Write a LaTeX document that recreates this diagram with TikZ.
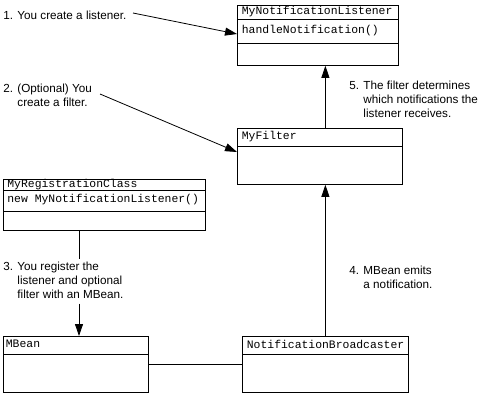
\documentclass[tikz,border=0pt]{standalone}
\usepackage{fontspec}
\setmainfont{Liberation Sans}
\setmonofont{Liberation Mono}
\usepackage{tikz}
\usetikzlibrary{arrows.meta, calc}
\newcommand{\classrule}[2]{\draw ($(#1.north west)+(0,#2)$) -- ($(#1.north east)+(0,#2)$);}

\begin{document}
\begin{tikzpicture}[x=1pt, y=-1pt, line width=0.8pt,
  cls/.style={draw, rectangle, anchor=north west, inner sep=0pt},
  member/.style={anchor=west, inner sep=0pt, font=\fontsize{11.4}{13}\ttfamily},
  note/.style={anchor=base west, inner sep=0pt, align=left, font=\fontsize{11.7}{14}\selectfont},
  tip/.style={-{Triangle[length=12pt, width=8pt]}}]

  \useasboundingbox (0,0) rectangle (495,402);

  % classes
  \node[cls, minimum width=161pt, minimum height=60pt] (lst) at (237,5) {};
  \classrule{lst}{14}
  \classrule{lst}{38}
  \node[member] (lstname) at ($(lst.north west)+(4.5,7)$) {MyNotificationListener};
  \node[member] (lstop) at ($(lst.north west)+(4.5,26)$) {handleNotification()};

  \node[cls, minimum width=165pt, minimum height=56pt] (flt) at (237,128) {};
  \classrule{flt}{18}
  \node[member] (fltname) at ($(flt.north west)+(4.5,9)$) {MyFilter};

  \node[cls, minimum width=202pt, minimum height=51pt] (reg) at (3,179) {};
  \classrule{reg}{11}
  \classrule{reg}{32}
  \node[member] (regname) at ($(reg.north west)+(4,5.5)$) {MyRegistrationClass};
  \node[member] (regop) at ($(reg.north west)+(4,21)$) {new MyNotificationListener()};

  \node[cls, minimum width=145pt, minimum height=56pt] (mbn) at (3,336) {};
  \classrule{mbn}{18}
  \node[member] (mbnname) at ($(mbn.north west)+(2.5,8)$) {MBean};

  \node[cls, minimum width=166pt, minimum height=56pt] (brd) at (242,336) {};
  \classrule{brd}{18}
  \node[member] (brdname) at ($(brd.north west)+(4.5,8)$) {NotificationBroadcaster};

  % notes (base = last line)
  \node[note] (l1) at (3,19) {1. You create a listener.};
  \node[note] (l2) at (3,106) {2. (Optional) You\\\phantom{2. }create a filter.};
  \node[note] (l3) at (3,298) {3. You register the\\\phantom{3. }listener and optional\\\phantom{3. }filter with an MBean.};
  \node[note] (l4) at (349,288) {4. MBean emits\\\phantom{4. }a notification.};
  \node[note] (l5) at (349,117) {5. The filter determines\\\phantom{5. }which notifications the\\\phantom{5. }listener receives.};

  % connectors
  \coordinate (s1) at (133,13);
  \coordinate (s2) at (100,94);
  \coordinate (r3) at ($(reg.south west)+(76,0)$);
  \draw[tip] (s1) -- ($(lst.north west)+(0,29)$);
  \draw[tip] (s2) -- ($(flt.north west)+(0,24)$);
  \draw (r3) -- ($(r3 |- l3.north)+(0,-2)$);
  \draw[tip] ($(r3 |- l3.south)+(0,5)$) -- (r3 |- mbn.north);
  \draw[tip] (brd.north) -- (brd.north |- flt.south);
  \draw[tip] (brd.north |- flt.north) -- (brd.north |- lst.south);
  \draw (mbn.east) -- (brd.west);

\end{tikzpicture}
\end{document}
